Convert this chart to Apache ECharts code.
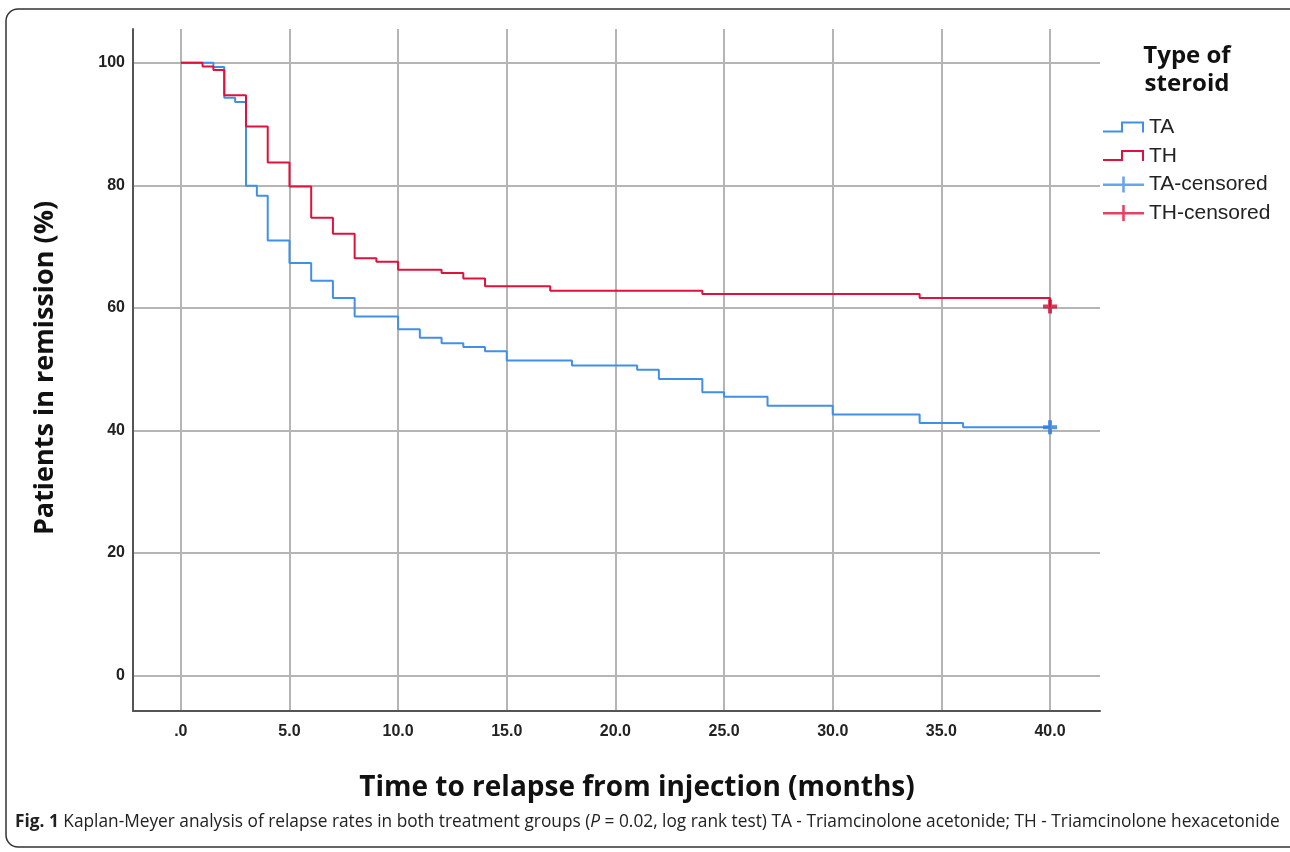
<!DOCTYPE html>
<html>
<head>
<meta charset="utf-8">
<title>Kaplan-Meyer</title>
<script src="https://cdn.jsdelivr.net/npm/echarts@6.0.0/dist/echarts.min.js"></script>
<style>
  html, body { margin: 0; padding: 0; background: #fff; }
  #container { width: 1290px; height: 852px; }
</style>
</head>
<body>
<div id="container"></div>
<script>
// months since injection, % in remission
var taTime = [0, 1.5, 2, 2.5, 3, 3.5, 4, 5, 6, 7, 8, 10, 11, 12, 13, 14, 15, 18, 21, 22, 24, 25, 27, 30, 34, 36, 40];
var taSurv = [100, 99.3, 94.3, 93.6, 79.9, 78.3, 71.0, 67.3, 64.4, 61.6, 58.6, 56.5, 55.1, 54.2, 53.6, 52.9, 51.4, 50.6, 49.9, 48.4, 46.2, 45.5, 44.0, 42.6, 41.2, 40.5, 40.5];
var thTime = [0, 1, 1.5, 2, 3, 4, 5, 6, 7, 8, 9, 10, 12, 13, 14, 17, 24, 34, 40, 40];
var thSurv = [100, 99.4, 98.8, 94.7, 89.6, 83.7, 79.8, 74.7, 72.1, 68.1, 67.5, 66.2, 65.7, 64.8, 63.5, 62.8, 62.25, 61.6, 61.6, 60.2];
var censorTime = 40;
var taCensorValue = 40.5;
var thCensorValue = 60.2;

var blue = '#4190e8';
var red = '#e0113c';

var pair = function (xs, ys) {
    var res = [];
    for (var i = 0; i < xs.length; i++) {
        res.push([xs[i], ys[i]]);
    }
    return res;
};

// legend icons (tiny dots at the corners keep the 41x16 box)
var stepIcon = 'path://M0,0L0.01,0L0,0.01ZM0,11H18V2H41V13H39V4H20V13H0ZM41,16L40.99,16L41,15.99Z';
var crossIcon = 'path://M0,7H19.2V0H21.8V7H41V9.4H21.8V16H19.2V9.4H0Z';
var plusMark = 'path://M3.6,0H6.4V3.6H10V6.4H6.4V10H3.6V6.4H0V3.6H3.6Z';

var dom = document.getElementById('container');
var myChart = echarts.init(dom);

var option = {
    animation: false,
    backgroundColor: '#fff',
    grid: { left: 133, right: 190, top: 29, bottom: 141 },
    xAxis: {
        type: 'value',
        min: -2.2,
        max: 42.3,
        splitNumber: 9,
        axisLine: { onZero: false, lineStyle: { color: '#555', width: 2 } },
        axisTick: { show: false },
        axisLabel: {
            showMinLabel: false,
            showMaxLabel: false,
            margin: 13,
            color: '#222',
            fontFamily: 'Liberation Sans',
            fontWeight: 'bold',
            fontSize: 16,
            formatter: function (v) {
                return v === 0 ? '.0' : v.toFixed(1);
            }
        },
        splitLine: { show: true, showMinLine: false, showMaxLine: false, lineStyle: { color: '#b5b5b5', width: 2 } }
    },
    yAxis: {
        type: 'value',
        min: -5.8,
        max: 105.5,
        splitNumber: 5,
        axisLine: { show: true, onZero: false, lineStyle: { color: '#555', width: 2 } },
        axisTick: { show: false },
        axisLabel: {
            showMinLabel: false,
            showMaxLabel: false,
            margin: 8,
            color: '#222',
            fontFamily: 'Liberation Sans',
            fontWeight: 'bold',
            fontSize: 16
        },
        splitLine: { show: true, showMinLine: false, showMaxLine: false, lineStyle: { color: '#b5b5b5', width: 2 } }
    },
    legend: {
        orient: 'vertical',
        left: 1103,
        top: 117,
        padding: 0,
        itemWidth: 41,
        itemHeight: 16,
        itemGap: 7.5,
        selectedMode: false,
        textStyle: { fontFamily: 'Liberation Sans', fontSize: 21, color: '#222' },
        data: [
            { name: 'TA', icon: stepIcon, itemStyle: { color: blue, borderWidth: 0 } },
            { name: 'TH', icon: stepIcon, itemStyle: { color: red, borderWidth: 0 } },
            { name: 'TA-censored', icon: crossIcon, itemStyle: { color: blue, borderWidth: 0 } },
            { name: 'TH-censored', icon: crossIcon, itemStyle: { color: red, borderWidth: 0 } }
        ]
    },
    graphic: [
        {
            type: 'rect',
            shape: { x: 6, y: 9, width: 1300, height: 838, r: 12 },
            style: { fill: 'none', stroke: '#333', lineWidth: 1.5 },
            silent: true
        },
        {
            type: 'text',
            x: 1187,
            y: 70,
            style: {
                text: 'Type of\nsteroid',
                align: 'center',
                verticalAlign: 'middle',
                fontFamily: 'Open Sans',
                fontWeight: 'bold',
                fontSize: 24,
                lineHeight: 28,
                fill: '#111'
            }
        },
        {
            type: 'text',
            x: 637,
            y: 788,
            style: {
                text: 'Time to relapse from injection (months)',
                align: 'center',
                verticalAlign: 'middle',
                fontFamily: 'Open Sans',
                fontWeight: 'bold',
                fontSize: 28,
                fill: '#111'
            }
        },
        {
            type: 'text',
            x: 45,
            y: 368,
            rotation: Math.PI / 2,
            style: {
                text: 'Patients in remission (%)',
                align: 'center',
                verticalAlign: 'middle',
                fontFamily: 'Open Sans',
                fontWeight: 'bold',
                fontSize: 27,
                fill: '#111'
            }
        },
        {
            type: 'text',
            x: 15,
            y: 822,
            style: {
                text: '{b|Fig. 1} Kaplan-Meyer analysis of relapse rates in both treatment groups ({i|P} = 0.02, log rank test) TA - Triamcinolone acetonide; TH - Triamcinolone hexacetonide',
                align: 'left',
                verticalAlign: 'middle',
                fontFamily: 'Open Sans',
                fontSize: 17.3,
                fill: '#222',
                rich: {
                    b: { fontFamily: 'Open Sans', fontWeight: 'bold', fontSize: 17.3, fill: '#222' },
                    i: { fontFamily: 'Open Sans', fontStyle: 'italic', fontSize: 17.3, fill: '#222' }
                }
            }
        }
    ],
    series: [
        {
            name: 'TA',
            type: 'line',
            step: 'end',
            showSymbol: false,
            data: pair(taTime, taSurv),
            itemStyle: { color: blue },
            lineStyle: { color: blue, width: 2 },
            z: 3
        },
        {
            name: 'TH',
            type: 'line',
            step: 'end',
            showSymbol: false,
            data: pair(thTime, thSurv),
            itemStyle: { color: red },
            lineStyle: { color: red, width: 2 },
            z: 4
        },
        {
            name: 'TA-censored',
            type: 'scatter',
            symbol: plusMark,
            symbolSize: 14,
            data: [[censorTime, taCensorValue]],
            itemStyle: { color: '#2a7be0' },
            z: 5
        },
        {
            name: 'TH-censored',
            type: 'scatter',
            symbol: plusMark,
            symbolSize: 14,
            data: [[censorTime, thCensorValue]],
            itemStyle: { color: '#cf0b32' },
            z: 5
        }
    ]
};

myChart.setOption(option);
</script>
</body>
</html>
